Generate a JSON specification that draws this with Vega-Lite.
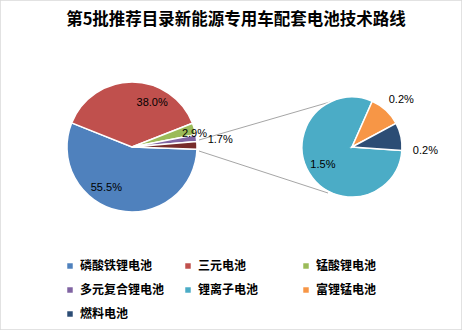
{
  "$schema": "https://vega.github.io/schema/vega-lite/v6.json",
  "autosize": "none",
  "width": 462,
  "height": 330,
  "padding": 0,
  "background": "white",
  "config": {"view": {"stroke": "#D9D9D9", "strokeWidth": 1.5}},
  "title": {
    "text": "第5批推荐目录新能源专用车配套电池技术路线",
    "font": "Noto Sans CJK SC",
    "fontSize": 16.5,
    "fontWeight": "bold",
    "color": "#000000",
    "anchor": "middle",
    "offset": -28,
    "dx": 5
  },
  "datasets": {
    "slices": [
      {"pie": "main", "name": "磷酸铁锂电池", "share": 0.555, "seq": 1},
      {"pie": "main", "name": "三元电池", "share": 0.38, "seq": 2},
      {"pie": "main", "name": "锰酸锂电池", "share": 0.029, "seq": 3},
      {"pie": "main", "name": "多元复合锂电池", "share": 0.017, "seq": 4},
      {"pie": "main", "name": "其他", "share": 0.019, "seq": 5},
      {"pie": "sub", "name": "锂离子电池", "share": 0.0153, "seq": 1},
      {"pie": "sub", "name": "富锂锰电池", "share": 0.002, "seq": 2},
      {"pie": "sub", "name": "燃料电池", "share": 0.0017, "seq": 3}
    ]
  },
  "data": {"name": "slices"},
  "layer": [
    {
      "data": {"values": [{"edge": "upper"}]},
      "mark": {"type": "rule", "color": "#A6A6A6", "strokeWidth": 1, "xOffset": 67, "yOffset": -7,
               "x2": {"expr": "scale('x', 'sub') - 22"}, "y2": {"expr": "scale('y', 'sub') - 45"}},
      "encoding": {
        "x": {"datum": "main", "type": "nominal", "scale": {"type": "point", "padding": 0, "domain": ["main", "sub"], "range": [132, 352]}, "axis": null},
        "y": {"datum": "main", "type": "nominal", "scale": {"type": "point", "padding": 0, "domain": ["main", "sub"], "range": [147, 147]}, "axis": null}
      }
    },
    {
      "data": {"values": [{"edge": "lower"}]},
      "mark": {"type": "rule", "color": "#A6A6A6", "strokeWidth": 1, "xOffset": 67, "yOffset": 4,
               "x2": {"expr": "scale('x', 'sub') - 24"}, "y2": {"expr": "scale('y', 'sub') + 46"}},
      "encoding": {
        "x": {"datum": "main", "type": "nominal", "axis": null},
        "y": {"datum": "main", "type": "nominal", "axis": null}
      }
    },
    {
      "transform": [{"filter": "datum.pie === 'main'"}],
      "encoding": {
        "x": {"field": "pie", "type": "nominal", "axis": null},
        "y": {"field": "pie", "type": "nominal", "axis": null},
        "theta": {"field": "share", "type": "quantitative", "stack": true, "scale": {"range": [1.606, 7.889]}},
        "order": {"field": "seq", "type": "quantitative"}
      },
      "layer": [
        {
          "mark": {"type": "arc", "radius": 65, "stroke": "white", "strokeWidth": 1.5},
          "encoding": {
            "color": {
              "field": "name", "type": "nominal",
              "scale": {
                "domain": ["磷酸铁锂电池", "三元电池", "锰酸锂电池", "多元复合锂电池", "锂离子电池", "富锂锰电池", "燃料电池", "其他"],
                "range": ["#4F81BD", "#C0504D", "#9BBB59", "#8064A2", "#4BACC6", "#F79646", "#2C4D75", "#772C2A"]
              },
              "legend": {
                "orient": "none", "legendX": 64, "legendY": 260, "columns": 3, "direction": "horizontal", "gridAlign": "all",
                "columnPadding": 17, "rowPadding": 12, "title": null,
                "values": ["磷酸铁锂电池", "三元电池", "锰酸锂电池", "多元复合锂电池", "锂离子电池", "富锂锰电池", "燃料电池"],
                "symbolType": "square", "symbolSize": 30, "symbolStrokeWidth": 0, "labelOffset": 4,
                "labelFont": "Noto Sans CJK SC", "labelFontSize": 12, "labelFontWeight": "bold", "labelColor": "#000000"
              }
            }
          }
        },
        {
          "mark": {"type": "text", "radius": 42, "dx": -17, "dy": 0, "font": "Liberation Sans", "fontSize": 11, "color": "#000000"},
          "encoding": {"text": {"condition": {"test": "datum.name === '磷酸铁锂电池'", "field": "share", "type": "quantitative", "format": ".1%"}, "value": ""}}
        },
        {
          "mark": {"type": "text", "radius": 44, "dx": 20, "dy": 0, "font": "Liberation Sans", "fontSize": 11, "color": "#000000"},
          "encoding": {"text": {"condition": {"test": "datum.name === '三元电池'", "field": "share", "type": "quantitative", "format": ".1%"}, "value": ""}}
        },
        {
          "mark": {"type": "text", "radius": 64, "dx": 1, "dy": 5, "font": "Liberation Sans", "fontSize": 11, "color": "#000000"},
          "encoding": {"text": {"condition": {"test": "datum.name === '锰酸锂电池'", "field": "share", "type": "quantitative", "format": ".1%"}, "value": ""}}
        },
        {
          "mark": {"type": "text", "radius": 88, "dx": 1, "dy": 5, "font": "Liberation Sans", "fontSize": 11, "color": "#000000"},
          "encoding": {"text": {"condition": {"test": "datum.name === '多元复合锂电池'", "field": "share", "type": "quantitative", "format": ".1%"}, "value": ""}}
        }
      ]
    },
    {
      "transform": [{"filter": "datum.pie === 'sub'"}],
      "encoding": {
        "x": {"field": "pie", "type": "nominal", "axis": null},
        "y": {"field": "pie", "type": "nominal", "axis": null},
        "theta": {"field": "share", "type": "quantitative", "stack": true, "scale": {"range": [1.6406, 7.9238]}},
        "order": {"field": "seq", "type": "quantitative"}
      },
      "layer": [
        {
          "mark": {"type": "arc", "radius": 50, "stroke": "white", "strokeWidth": 1.5},
          "encoding": {"color": {"field": "name", "type": "nominal"}}
        },
        {
          "mark": {"type": "text", "radius": 34, "dx": 0, "dy": 0, "font": "Liberation Sans", "fontSize": 11, "color": "#000000"},
          "encoding": {"text": {"condition": {"test": "datum.name === '锂离子电池'", "field": "share", "type": "quantitative", "format": ".1%"}, "value": ""}}
        },
        {
          "mark": {"type": "text", "radius": 68, "dx": 3, "dy": 3, "font": "Liberation Sans", "fontSize": 11, "color": "#000000"},
          "encoding": {"text": {"condition": {"test": "datum.name === '富锂锰电池'", "field": "share", "type": "quantitative", "format": ".1%"}, "value": ""}}
        },
        {
          "mark": {"type": "text", "radius": 72, "dx": 3, "dy": 19, "font": "Liberation Sans", "fontSize": 11, "color": "#000000"},
          "encoding": {"text": {"condition": {"test": "datum.name === '燃料电池'", "field": "share", "type": "quantitative", "format": ".1%"}, "value": ""}}
        }
      ]
    }
  ],
  "resolve": {"scale": {"theta": "independent"}}
}
